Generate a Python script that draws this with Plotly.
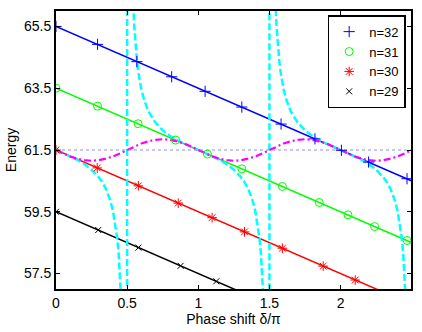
import plotly.graph_objects as go

# ---- data ----
names = ["n=32", "n=31", "n=30", "n=29"]
colors = ["#0000ff", "#00ff00", "#ff0000", "#000000"]
symbols = ["cross-thin", "circle-open", "asterisk-open", "x-thin"]

# straight level lines (endpoints)
line_x = [0.0, 2.5]
line32_y = [65.5, 60.5]
line31_y = [63.5, 58.5]
line30_y = [61.5, 56.5]
line29_y = [59.5, 54.5]

# marker positions
m32_x = [0.0, 0.292, 0.568, 0.813, 1.048, 1.306, 1.582, 1.82, 2.006, 2.197, 2.467]
m32_y = [65.5, 64.92, 64.36, 63.87, 63.40, 62.89, 62.34, 61.86, 61.49, 61.11, 60.57]
m31_x = [0.0, 0.292, 0.577, 0.841, 1.064, 1.306, 1.591, 1.85, 2.052, 2.239, 2.467]
m31_y = [63.5, 62.92, 62.35, 61.82, 61.37, 60.89, 60.32, 59.80, 59.40, 59.02, 58.57]
m30_x = [0.0, 0.29, 0.579, 0.859, 1.097, 1.325, 1.591, 1.878, 2.103]
m30_y = [61.5, 60.92, 60.34, 59.78, 59.31, 58.85, 58.32, 57.74, 57.29]
m29_x = [0.0, 0.297, 0.579, 0.876, 1.127]
m29_y = [59.5, 58.91, 58.34, 57.75, 57.25]

# cyan dashed curve
cyan_x = [0.0, 0.05, 0.1, 0.15, 0.2, 0.25, 0.3, 0.32, 0.35, 0.38, 0.4, 0.42, 0.43, 0.44, 0.45, 0.46, 0.47, 0.5,
          0.5, 0.53, 0.54, 0.55, 0.56, 0.57, 0.58, 0.6, 0.62, 0.65, 0.7, 0.75, 0.8, 0.85, 0.9, 0.95,
          1.0, 1.05, 1.1, 1.15, 1.2, 1.25, 1.3, 1.32, 1.35, 1.38, 1.4, 1.42, 1.43, 1.44, 1.45, 1.46, 1.47, 1.5,
          1.5, 1.53, 1.54, 1.55, 1.56, 1.57, 1.58, 1.6, 1.62, 1.65, 1.7, 1.75, 1.8, 1.85, 1.9, 1.95,
          2.0, 2.05, 2.1, 2.15, 2.2, 2.25, 2.3, 2.32, 2.35, 2.38, 2.4, 2.42, 2.43, 2.44, 2.45, 2.46, 2.47, 2.5]
cyan_y = [61.5, 61.40, 61.29, 61.18, 61.04, 60.86, 60.62, 60.50, 60.25, 59.89, 59.54, 59.02, 58.65, 58.16, 57.48, 56.46, 54.77, 40.0,
          90.0, 68.24, 66.54, 65.52, 64.84, 64.35, 63.98, 63.46, 63.11, 62.75, 62.38, 62.14, 61.96, 61.82, 61.71, 61.60,
          61.5, 61.40, 61.29, 61.18, 61.04, 60.86, 60.62, 60.50, 60.25, 59.89, 59.54, 59.02, 58.65, 58.16, 57.48, 56.46, 54.77, 40.0,
          90.0, 68.24, 66.54, 65.52, 64.84, 64.35, 63.98, 63.46, 63.11, 62.75, 62.38, 62.14, 61.96, 61.82, 61.71, 61.60,
          61.5, 61.40, 61.29, 61.18, 61.04, 60.86, 60.62, 60.50, 60.25, 59.89, 59.54, 59.02, 58.65, 58.16, 57.48, 56.46, 54.77, 40.0]

# magenta dash-dot curve
mag_x = [round(i * 0.05, 2) for i in range(51)]
mag_y = [61.5, 61.39, 61.29, 61.22, 61.17, 61.15, 61.17, 61.22, 61.29, 61.39,
         61.5, 61.61, 61.71, 61.78, 61.83, 61.85, 61.83, 61.78, 61.71, 61.61,
         61.5, 61.39, 61.29, 61.22, 61.17, 61.15, 61.17, 61.22, 61.29, 61.39,
         61.5, 61.61, 61.71, 61.78, 61.83, 61.85, 61.83, 61.78, 61.71, 61.61,
         61.5, 61.39, 61.29, 61.22, 61.17, 61.15, 61.17, 61.22, 61.29, 61.39,
         61.5]

# dotted reference level
ref_x = [0.0, 2.5]
ref_y = [61.5, 61.5]

x_ticks = [0, 0.5, 1, 1.5, 2]
x_ticklabels = ["0", "0.5", "1", "1.5", "2"]
y_ticks = [57.5, 59.5, 61.5, 63.5, 65.5]
y_ticklabels = ["57.5", "59.5", "61.5", "63.5", "65.5"]
x_title = "Phase shift δ/π"
y_title = "Energy"

fig = go.Figure()

line_ys = [line32_y, line31_y, line30_y, line29_y]
for ly, c in zip(line_ys, colors):
    fig.add_trace(go.Scatter(x=line_x, y=ly, mode="lines", line=dict(color=c, width=1.5),
                             showlegend=False, hoverinfo="skip"))

fig.add_trace(go.Scatter(x=cyan_x, y=cyan_y, mode="lines",
                         line=dict(color="#00ffff", width=2.5, dash="7px,3px"),
                         showlegend=False, hoverinfo="skip"))
fig.add_trace(go.Scatter(x=mag_x, y=mag_y, mode="lines",
                         line=dict(color="#ff00ff", width=2.2, dash="7px,3px,2px,3px"),
                         showlegend=False, hoverinfo="skip"))
fig.add_trace(go.Scatter(x=ref_x, y=ref_y, mode="lines",
                         line=dict(color="#8c8cff", width=1.2, dash="dot"),
                         showlegend=False, hoverinfo="skip"))

mxs = [m32_x, m31_x, m30_x, m29_x]
mys = [m32_y, m31_y, m30_y, m29_y]
sizes = [8, 8, 8, 6]
for name, mx, my, c, s, sz in zip(names, mxs, mys, colors, symbols, sizes):
    fig.add_trace(go.Scatter(x=mx, y=my, mode="markers", name=name,
                             marker=dict(symbol=s, size=sz, color=c,
                                         line=dict(color=c, width=1))))

axis_common = dict(showgrid=False, zeroline=False, showline=True, linecolor="black",
                   linewidth=2, mirror="ticks", ticks="inside", ticklen=4, tickwidth=1,
                   tickcolor="black", tickfont=dict(family="Liberation Sans, Arial", size=14, color="black"))

fig.update_layout(
    width=422, height=332,
    margin=dict(l=56, r=9, t=9, b=43),
    paper_bgcolor="white", plot_bgcolor="white",
    font=dict(family="Liberation Sans, Arial", size=14, color="black"),
    xaxis=dict(range=[0, 2.495], tickvals=x_ticks, ticktext=x_ticklabels,
               title=dict(text=x_title, font=dict(size=14), standoff=0), **axis_common),
    yaxis=dict(range=[57, 66], tickvals=y_ticks, ticktext=y_ticklabels,
               title=dict(text=y_title, font=dict(size=14), standoff=4), **axis_common),
    legend=dict(x=0.985, y=0.985, xanchor="right", yanchor="top", bgcolor="white",
                bordercolor="black", borderwidth=1.5, font=dict(size=13),
                tracegroupgap=0, itemwidth=30),
    showlegend=True,
)

fig.write_html("out.html")
